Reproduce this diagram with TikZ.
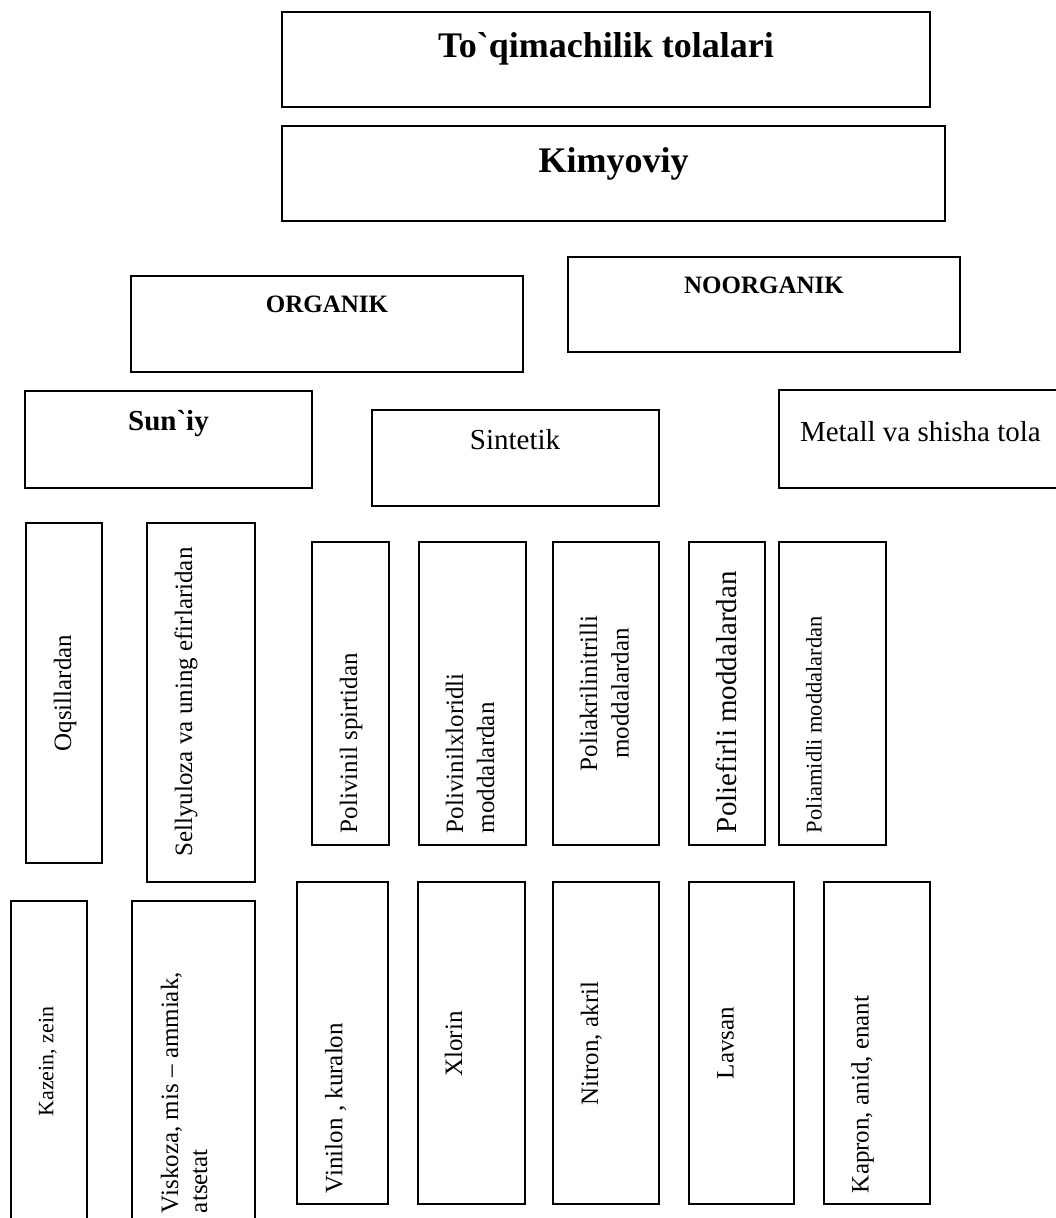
\documentclass[tikz,border=0pt]{standalone}
\usepackage{fontspec}
\setmainfont{Liberation Serif}[Ligatures=TeXOff]
\newcommand\fs[1]{\fontsize{#1}{#1}\selectfont}
\begin{document}
\begin{tikzpicture}[x=1pt,y=-1pt,
  box/.style={draw=black, line width=1.5pt, inner sep=0pt, fill=none},
  lbl/.style={inner sep=0pt, outer sep=0pt},
  vert/.style={lbl, rotate=90},
  bigb/.style={lbl, font=\fs{36}\bfseries},
  midb/.style={lbl, font=\fs{25}\bfseries},
  subb/.style={lbl, font=\fs{29}\bfseries},
  subr/.style={lbl, font=\fs{29}},
  vt/.style={vert, font=\fs{25}}]
\useasboundingbox (0,0) rectangle (1056,1218);
\clip (0,0) rectangle (1056,1218);
\newcommand\bx[5]{\node[box, minimum width={(#4-#2)*1pt}, minimum height={(#5-#3)*1pt}] (#1) at ({(#2+#4)/2},{(#3+#5)/2}) {};}
% boxes
\bx{b1}{282}{12}{930}{107}
\bx{b2}{282}{126}{945}{221}
\bx{b3}{131}{276}{523}{372}
\bx{b4}{568}{257}{960}{352}
\bx{b5}{25}{391}{312}{488}
\bx{b6}{372}{410}{659}{506}
\bx{b7}{779}{390}{1066}{488}
\bx{b8}{26}{523}{102}{863}
\bx{b9}{147}{523}{255}{882}
\bx{b10}{312}{542}{389}{845}
\bx{b11}{419}{542}{526}{845}
\bx{b12}{553}{542}{659}{845}
\bx{b13}{689}{542}{765}{845}
\bx{b14}{779}{542}{886}{845}
\bx{b15}{11}{901}{87}{1230}
\bx{b16}{132}{901}{255}{1230}
\bx{b17}{297}{882}{388}{1204}
\bx{b18}{418}{882}{525}{1204}
\bx{b19}{553}{882}{659}{1204}
\bx{b20}{689}{882}{794}{1204}
\bx{b21}{824}{882}{930}{1204}
% texts
\node[bigb, anchor=base] (t1) at (606,57) {To`qimachilik tolalari};
\node[bigb, anchor=base] (t2) at (613.5,172) {Kimyoviy};
\node[midb, anchor=base] (t3) at (327,312) {ORGANIK};
\node[midb, anchor=base] (t4) at (764,293) {NOORGANIK};
\node[subb, anchor=base] (t5) at (168.5,430) {Sun`iy};
\node[subr, anchor=base] (t6) at (515,449) {Sintetik};
\node[subr, anchor=base west] (t7) at (800,441) {Metall va shisha tola};
\node[vt, anchor=base] (t8) at (71,693) {Oqsillardan};
\node[vt, anchor=base] (t9) at (192,702) {Sellyuloza va uning efirlaridan};
\node[vt, anchor=base west] (t10) at (357,833) {Polivinil spirtidan};
\node[vt, anchor=base west] (t11a) at (463,833) {Polivinilxloridli};
\node[vt, anchor=base west] (t11b) at (494,833) {moddalardan};
\node[vt, anchor=base] (t12a) at (597,693.5) {Poliakrilinitrilli};
\node[vt, anchor=base] (t12b) at (628.7,693.5) {moddalardan};
\node[vert, font=\fs{29}, anchor=base west] (t13) at (736,833) {Poliefirli moddalardan};
\node[vert, font=\fs{22.5}, anchor=base west] (t14) at (821.5,833) {Poliamidli moddalardan};
\node[vert, font=\fs{22}, anchor=base] (t15) at (53.4,1061.5) {Kazein, zein};
\node[vt, anchor=base west] (t16a) at (178,1213) {Viskoza, mis – ammiak,};
\node[vt, anchor=base west] (t16b) at (207,1213) {atsetat};
\node[vt, anchor=base west] (t17) at (342.4,1193) {Vinilon , kuralon};
\node[vt, anchor=base] (t18) at (462,1044) {Xlorin};
\node[vt, anchor=base] (t19) at (598,1043.5) {Nitron, akril};
\node[vt, anchor=base] (t20) at (733.7,1043) {Lavsan};
\node[vt, anchor=base west] (t21) at (868.7,1193) {Kapron, anid, enant};
\end{tikzpicture}
\end{document}
